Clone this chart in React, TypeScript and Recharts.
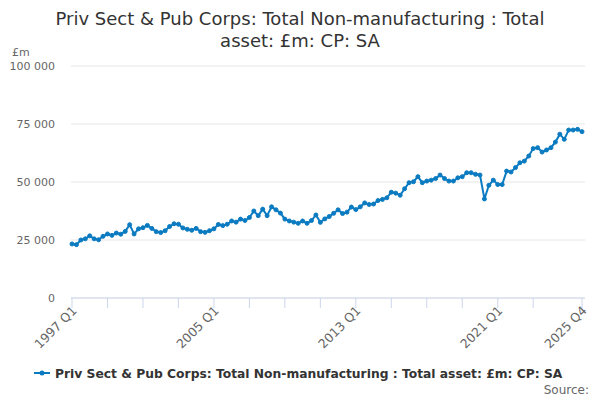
import React from 'react';
import { LineChart, Line, XAxis, YAxis, CartesianGrid } from 'recharts';

const years = [1997, 1998, 1999, 2000, 2001, 2002, 2003, 2004, 2005, 2006, 2007, 2008, 2009, 2010, 2011, 2012, 2013, 2014, 2015, 2016, 2017, 2018, 2019, 2020, 2021, 2022, 2023, 2024, 2025];
const quarters = ['Q1', 'Q2', 'Q3', 'Q4'];
const categories = years.flatMap((y) => quarters.map((q) => `${y} ${q}`));

const values = [
  23300, 23000, 25000, 25500, 26800, 25500, 25100, 26600,
  27600, 27000, 28000, 27500, 28700, 31600, 27600, 29800,
  30300, 31300, 30000, 28600, 28200, 29000, 30800, 32000,
  31800, 30200, 29600, 29200, 30000, 28600, 28300, 29000,
  29800, 31700, 31200, 31800, 33200, 32700, 34000, 33400,
  34700, 37500, 35500, 38300, 35500, 39300, 38000, 36600,
  34000, 33200, 32700, 32200, 33200, 32200, 33400, 35800,
  32600, 34100, 35100, 36500, 38000, 36400, 37000, 39200,
  38100, 39300, 41000, 40300, 40500, 42000, 42500, 43200,
  45600, 45200, 44300, 47100, 49700, 50100, 52300, 49700,
  50400, 50800, 51500, 53000, 51500, 50400, 50400, 51800,
  52300, 54000, 54000, 53300, 53000, 42700, 48600, 50800,
  48900, 48900, 54700, 54300, 56200, 58300, 59000, 61200,
  64400, 64800, 62900, 63800, 64800, 67200, 70600, 68400,
  72400, 72400, 72700, 71700,
];

const yTicks = [0, 25000, 50000, 75000, 100000];
const xTickCats = ['1997 Q1', '1999 Q1', '2001 Q1', '2003 Q1', '2005 Q1', '2007 Q1', '2009 Q1', '2011 Q1', '2013 Q1', '2015 Q1', '2017 Q1', '2019 Q1', '2021 Q1', '2023 Q1', '2025 Q4'];
const xLabelCats = ['1997 Q1', '2005 Q1', '2013 Q1', '2021 Q1', '2025 Q4'];

const titleLines = ['Priv Sect & Pub Corps: Total Non-manufacturing : Total', 'asset: £m: CP: SA'];
const seriesName = 'Priv Sect & Pub Corps: Total Non-manufacturing : Total asset: £m: CP: SA';
const unitLabel = '£m';
const sourceLabel = 'Source:';

const data = categories.map((c, i) => ({ q: c, v: values[i] }));

const LINE = '#0b7bc1';
const FONT = '"DejaVu Sans", Verdana, sans-serif';

const fmt = (n: number) => String(n).replace(/\B(?=(\d{3})+(?!\d))/g, ' ');

const XTick = (props: any) => {
  const { x, y, payload } = props;
  if (!xLabelCats.includes(payload.value)) return null;
  return (
    <g transform={`translate(${x},${y})`}>
      <text x={0} y={0} dy={5} dx={3} transform="rotate(-45)" textAnchor="end" fill="#666" fontSize={12.5} fontFamily={FONT}>
        {payload.value}
      </text>
    </g>
  );
};

const YTick = (props: any) => {
  const { x, y, payload } = props;
  return (
    <text x={x} y={y} dy={4} textAnchor="end" fill="#666" fontSize={11} fontFamily={FONT}>
      {fmt(payload.value)}
    </text>
  );
};

export default function App() {
  return (
    <div style={{ position: 'absolute', left: 0, top: 0, width: 600, height: 400, background: '#fff' }}>
      <LineChart width={600} height={400} data={data} margin={{ top: 66, right: 15, bottom: 2, left: 0 }}>
        <CartesianGrid vertical={false} stroke="#e6e6e6" />
        <XAxis
          dataKey="q"
          ticks={xTickCats}
          interval={0}
          tick={<XTick />}
          tickSize={10}
          tickLine={{ stroke: '#ccd6eb' }}
          axisLine={{ stroke: '#ccd6eb' }}
          padding={{ left: 1, right: 3 }}
          height={100}
        />
        <YAxis
          domain={[0, 100000]}
          ticks={yTicks}
          width={71}
          axisLine={false}
          tickLine={false}
          tickSize={0}
          tickMargin={16}
          tick={<YTick />}
        />
        <Line
          type="linear"
          dataKey="v"
          stroke={LINE}
          strokeWidth={2}
          dot={{ r: 2, fill: LINE, stroke: LINE, strokeWidth: 1 }}
          isAnimationActive={false}
        />
      </LineChart>
      <svg width={600} height={400} style={{ position: 'absolute', left: 0, top: 0, pointerEvents: 'none' }}>
        {titleLines.map((t, i) => (
          <text key={i} x={300} y={25 + i * 22} textAnchor="middle" fill="#333" fontSize={18} fontFamily={FONT}>
            {t}
          </text>
        ))}
        <text x={12} y={56} fill="#666" fontSize={11} fontFamily={FONT}>{unitLabel}</text>
        <line x1={34} x2={50} y1={373} y2={373} stroke={LINE} strokeWidth={2} />
        <circle cx={42} cy={373} r={2.5} fill={LINE} />
        <text x={55} y={377.5} fill="#333" fontSize={12.3} fontWeight="bold" fontFamily={FONT}>{seriesName}</text>
        <text x={589} y={394} textAnchor="end" fill="#666" fontSize={12} fontFamily={FONT}>{sourceLabel}</text>
      </svg>
    </div>
  );
}
